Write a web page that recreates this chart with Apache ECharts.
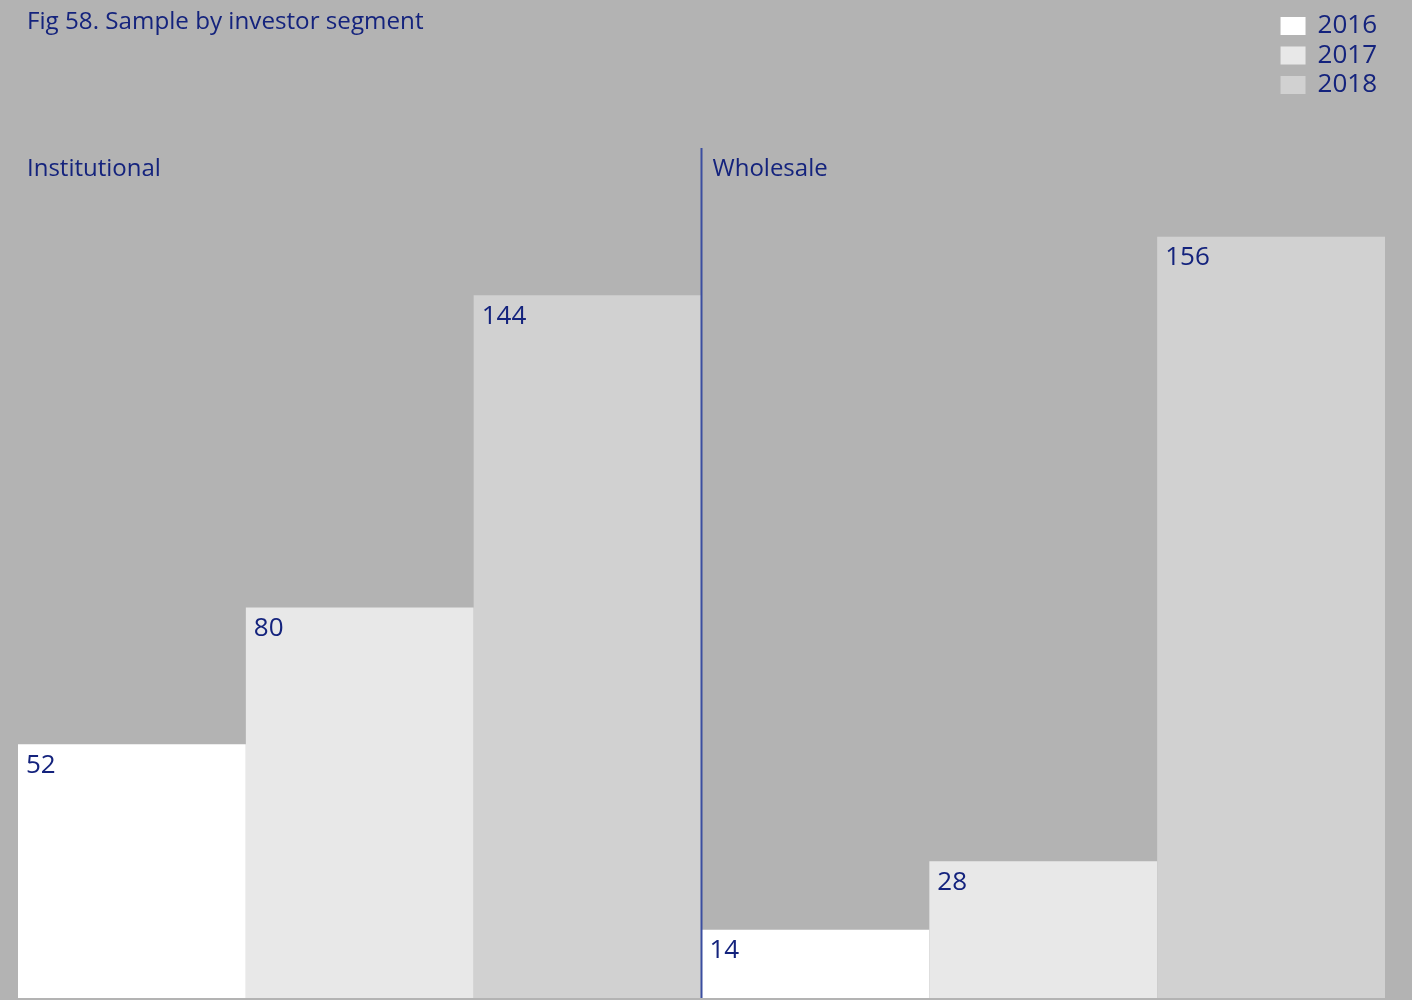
<!DOCTYPE html>
<html>
<head>
<meta charset="utf-8">
<script src="https://cdn.jsdelivr.net/npm/echarts@6/dist/echarts.min.js"></script>
<style>
  html, body { margin: 0; padding: 0; background: #b3b3b3; }
  #main { width: 1412px; height: 1000px; }
</style>
</head>
<body>
<div id="main"></div>
<script>
// 数据
var segments = ['Institutional', 'Wholesale'];
var years = ['2016', '2017', '2018'];
var v2016 = [52, 14];
var v2017 = [80, 28];
var v2018 = [144, 156];
var barColors = ['#ffffff', '#e8e8e8', '#d1d1d1'];

var navy = '#14237d';
var font = 'Open Sans';

var chart = echarts.init(document.getElementById('main'));

function makeSeries(name, data, color) {
    return {
        name: name,
        type: 'bar',
        data: data,
        barGap: '0%',
        barCategoryGap: '0%',
        itemStyle: { color: color },
        label: {
            show: true,
            position: 'insideTopLeft',
            distance: 8,
            color: navy,
            fontFamily: font,
            fontSize: 26
        },
        emphasis: { disabled: true }
    };
}

var option = {
    backgroundColor: '#b3b3b3',
    animation: false,
    title: {
        text: 'Fig 58. Sample by investor segment',
        left: 22,
        top: 5,
        textStyle: { color: navy, fontFamily: font, fontWeight: 'normal', fontSize: 24.2 }
    },
    legend: {
        orient: 'vertical',
        right: 30,
        top: 8,
        itemWidth: 25,
        itemHeight: 18,
        itemGap: 3.5,
        icon: 'rect',
        data: years,
        textStyle: { color: navy, fontFamily: font, fontSize: 26, lineHeight: 26, padding: [0, 0, 0, 7] }
    },
    grid: { left: 18, right: 27, top: 0, bottom: 2 },
    xAxis: {
        type: 'category',
        data: segments,
        axisLine: { show: false },
        axisTick: { show: false },
        axisLabel: { show: false }
    },
    yAxis: {
        type: 'value',
        min: 0,
        max: 204.5,
        show: false,
        splitLine: { show: false }
    },
    series: [
        makeSeries(years[0], v2016, barColors[0]),
        makeSeries(years[1], v2017, barColors[1]),
        makeSeries(years[2], v2018, barColors[2])
    ]
};

chart.setOption(option);

// 分组标题与分隔线
var gridW = 1412 - 18 - 27;
var catW = gridW / segments.length;
var graphics = [];
segments.forEach(function (s, i) {
    var x0 = 18 + catW * i;
    graphics.push({
        type: 'text',
        left: x0 + (i === 0 ? 9 : 11),
        top: 157,
        style: { text: s, fill: navy, font: '24px "' + font + '"' }
    });
    if (i > 0) {
        graphics.push({
            type: 'line',
            shape: { x1: x0, y1: 148, x2: x0, y2: 998 },
            style: { stroke: '#3b4ea0', lineWidth: 2 },
            z: 10
        });
    }
});
chart.setOption({ graphic: graphics });
</script>
</body>
</html>
